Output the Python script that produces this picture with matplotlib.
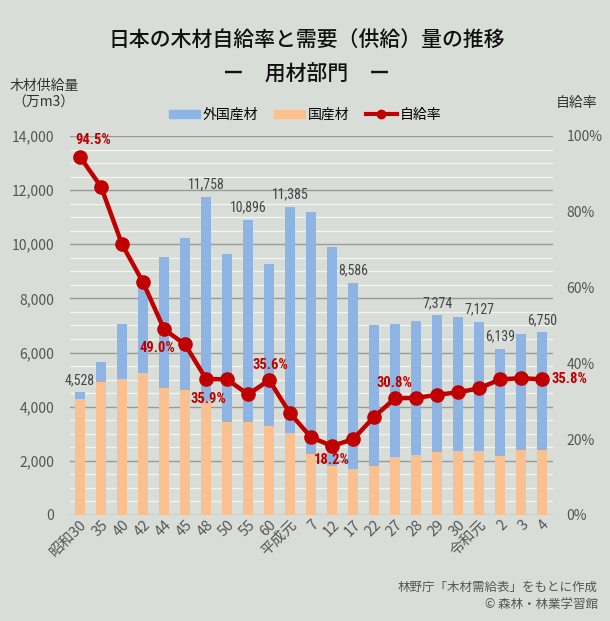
import numpy as np
import matplotlib
matplotlib.use('Agg')
from matplotlib import pyplot as plt
from matplotlib.ticker import MultipleLocator, FuncFormatter

plt.rcParams['font.family'] = ['Noto Sans CJK JP', 'DejaVu Sans']

# データ（万m3, %）
years = ['昭和30', '35', '40', '42', '44', '45', '48', '50', '55', '60', '平成元',
         '7', '12', '17', '22', '27', '28', '29', '30', '令和元', '2', '3', '4']
total = [4528, 5653, 7053, 8500, 9540, 10244, 11758, 9630, 10896, 9290, 11385,
         11204, 9911, 8586, 7018, 7055, 7166, 7374, 7302, 7127, 6139, 6686, 6750]
domestic = [4279, 4896, 5036, 5250, 4675, 4620, 4221, 3450, 3447, 3300, 3040,
            2255, 1800, 1699, 1810, 2131, 2205, 2327, 2364, 2364, 2180, 2401, 2416]
rate = [94.5, 86.6, 71.4, 61.4, 49.0, 45.0, 35.9, 35.8, 31.8, 35.6, 26.8,
        20.5, 18.2, 20.0, 25.9, 30.8, 30.9, 31.7, 32.4, 33.4, 35.8, 36.1, 35.8]
total_labels = ['4,528', '11,758', '10,896', '11,385', '8,586', '7,374', '7,127', '6,139', '6,750']
rate_labels = ['94.5%', '49.0%', '35.9%', '35.6%', '18.2%', '30.8%', '35.8%']

foreign = [t - d for t, d in zip(total, domestic)]
x = np.arange(len(years))

bg = '#d8ded7'
blue = '#8db4e2'
orange = '#fac090'
red = '#c00000'
grey = '#555555'
narrow = ['Roboto Condensed', 'DejaVu Sans']

fig = plt.figure(figsize=(6.1, 6.21), dpi=100, facecolor=bg)
ax = fig.add_axes([0.114, 0.1707, 0.792, 0.6103])
ax.set_facecolor('none')

ax.bar(x, domestic, width=0.48, color=orange, zorder=3)
ax.bar(x, foreign, width=0.48, bottom=domestic, color=blue, zorder=3)

ax.set_xlim(-0.5, len(years) - 0.5)
ax.set_ylim(0, 14000)
ax.yaxis.set_major_locator(MultipleLocator(2000))
ax.yaxis.set_minor_locator(MultipleLocator(500))
ax.yaxis.set_major_formatter(FuncFormatter(lambda v, p: f'{int(v):,}'))
ax.grid(axis='y', which='minor', color='#f2f4f2', lw=0.9, zorder=1)
ax.grid(axis='y', which='major', color='#9a9a9a', lw=1.0, zorder=2)
ax.tick_params(axis='y', which='both', length=0, colors=grey, labelsize=10, pad=11)
ax.tick_params(axis='x', length=0, colors=grey, labelsize=10.5, pad=2)
ax.set_xticks(x)
ax.set_xticklabels(years, rotation=45, ha='right', va='top', rotation_mode='anchor')
for s in ax.spines.values():
    s.set_visible(False)

# 合計の数値ラベル
lab_idx = [0, 6, 8, 10, 13, 17, 19, 20, 22]
for i, t in zip(lab_idx, total_labels):
    ax.text(i, total[i] + 200, t, ha='center', va='bottom', fontsize=10,
            color='#444444', family=narrow, fontstretch='condensed')

# 自給率
ax2 = ax.twinx()
ax2.set_facecolor('none')
ax2.plot(x, rate, color=red, lw=3.2, marker='o', ms=9.5, zorder=5)
ax2.set_ylim(0, 100)
ax2.yaxis.set_major_locator(MultipleLocator(20))
ax2.yaxis.set_major_formatter(FuncFormatter(lambda v, p: f'{int(v)}%'))
ax2.tick_params(axis='y', length=0, colors=grey, labelsize=10, pad=10)
for s in ax2.spines.values():
    s.set_visible(False)

rate_idx = [0, 4, 6, 9, 12, 15, 22]
offsets = [(0.65, 4.5), (-0.3, -5.0), (0.1, -5.3), (0.05, 4.0), (0.0, -3.8), (-0.05, 4.0), (1.3, 0)]
for i, t, (dx, dy) in zip(rate_idx, rate_labels, offsets):
    ax2.text(i + dx, rate[i] + dy, t, ha='center', va='center', fontsize=10.5,
             color=red, weight='bold', family=narrow, fontstretch='condensed')

# タイトル・軸ラベル
fig.text(0.503, 0.935, '日本の木材自給率と需要（供給）量の推移', ha='center', va='center',
         fontsize=15, weight='medium', color='#111111')
fig.text(0.503, 0.879, 'ー　用材部門　ー', ha='center', va='center',
         fontsize=15, weight='medium', color='#111111')
fig.text(0.072, 0.862, '木材供給量', ha='center', va='center', fontsize=10, color='#333333')
fig.text(0.072, 0.834, '（万m3）', ha='center', va='center', fontsize=10, color='#333333')
fig.text(0.945, 0.834, '自給率', ha='center', va='center', fontsize=10, color='#333333')

# 凡例
handles = [plt.Rectangle((0, 0), 1, 1, color=blue), plt.Rectangle((0, 0), 1, 1, color=orange),
           plt.Line2D([0], [0], color=red, lw=3, marker='o', ms=6)]
fig.legend(handles, ['外国産材', '国産材', '自給率'], loc='center', bbox_to_anchor=(0.5, 0.815),
           ncol=3, frameon=False, fontsize=10, handlelength=2.2, handleheight=0.6,
           columnspacing=1.2, handletextpad=0.2)

# 出典
fig.text(0.98, 0.055, '林野庁「木材需給表」をもとに作成', ha='right', va='center', fontsize=9, color='#555555')
fig.text(0.98, 0.026, '© 森林・林業学習館', ha='right', va='center', fontsize=9, color='#555555')

fig.savefig('out.png', dpi=100, facecolor=bg)
